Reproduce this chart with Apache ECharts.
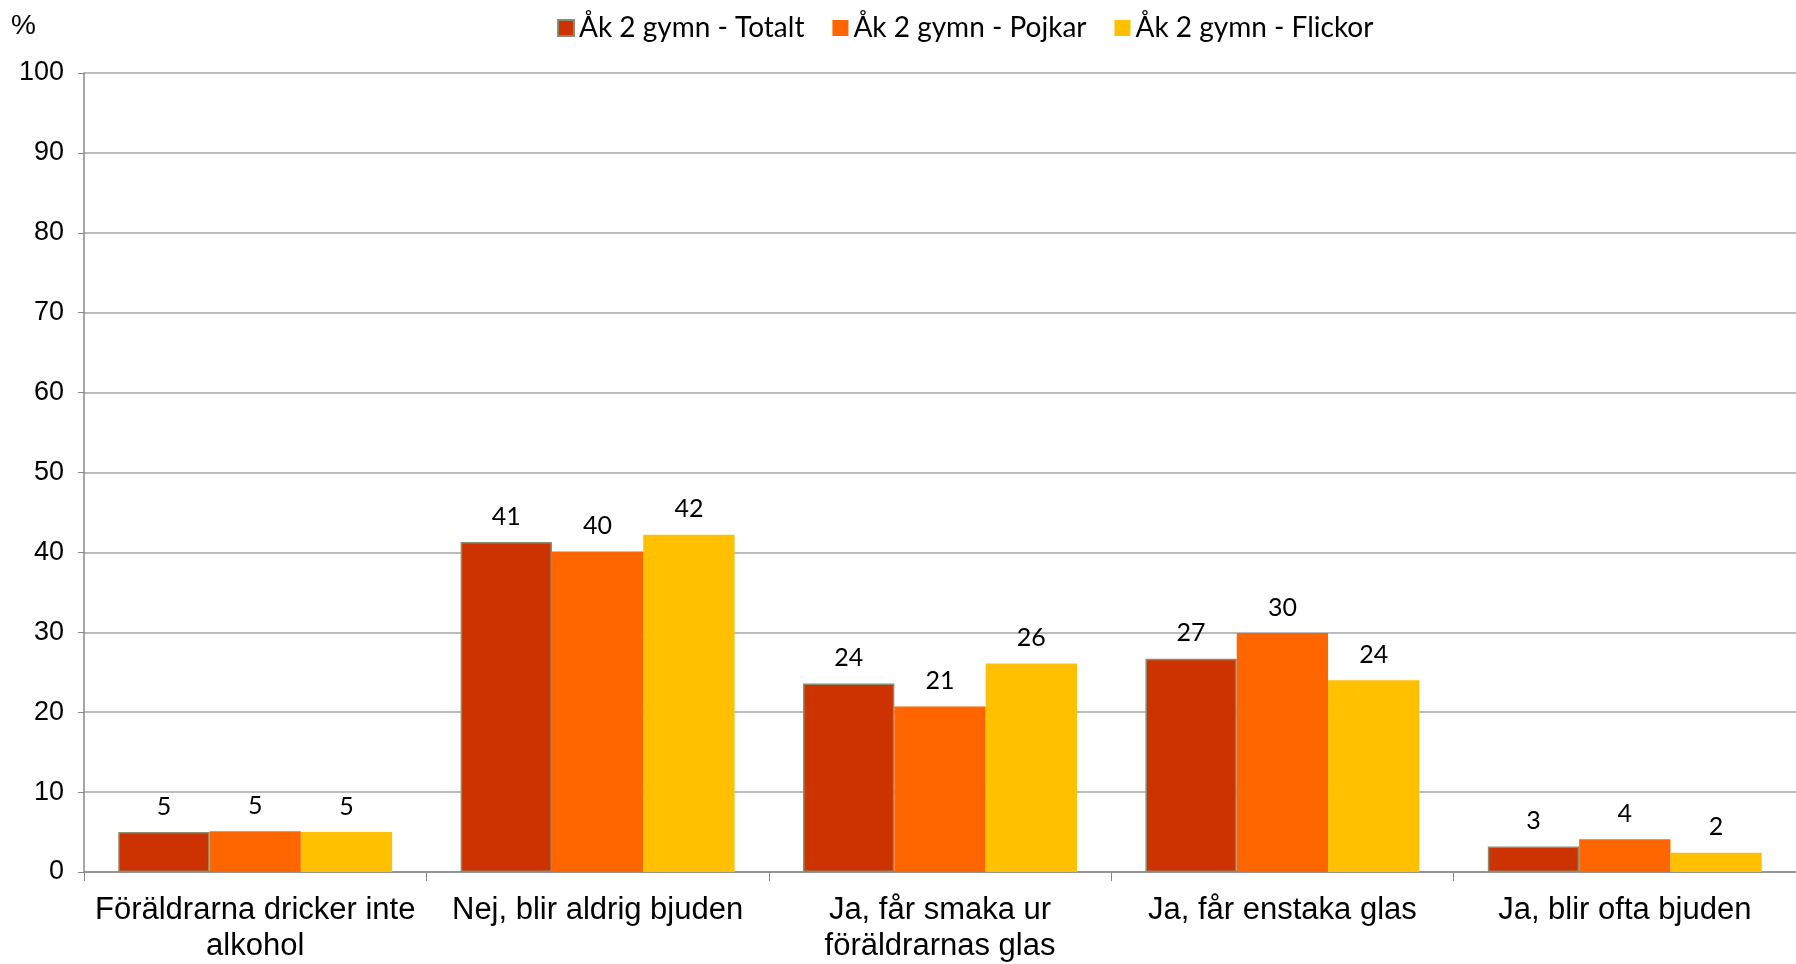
<!DOCTYPE html>
<html><head><meta charset="utf-8">
<script src="https://cdn.jsdelivr.net/npm/echarts@6/dist/echarts.min.js"></script>
<style>html,body{margin:0;padding:0;background:#fff}#c{width:1796px;height:964px}</style>
</head><body><div id="c"></div>
<script>
const categories = ["Föräldrarna dricker inte\nalkohol", "Nej, blir aldrig bjuden", "Ja, får smaka ur\nföräldrarnas glas", "Ja, får enstaka glas", "Ja, blir ofta bjuden"];
const seriesNames = ["Åk 2 gymn - Totalt", "Åk 2 gymn - Pojkar", "Åk 2 gymn - Flickor"];
const totalt = [5.0, 41.3, 23.6, 26.7, 3.2];
const pojkar = [5.1, 40.1, 20.7, 29.9, 4.1];
const flickor = [5.0, 42.2, 26.1, 24.0, 2.4];
const colors = ["#CC3300", "#FF6600", "#FFC000"];
const yTicks = [0, 10, 20, 30, 40, 50, 60, 70, 80, 90, 100];

const labelFont = "Lato, 'Open Sans', sans-serif";
function mk(name, data, color, border) {
  return {
    name, type: 'bar', data, barGap: '0%', barCategoryGap: '20%',
    itemStyle: { color, borderColor: border || color, borderWidth: border ? 1.5 : 0 },
    label: { show: true, position: 'top', distance: 13, color: '#000', fontFamily: labelFont, fontSize: 25,
      formatter: p => Math.round(p.value) }
  };
}
const chart = echarts.init(document.getElementById('c'));
chart.setOption({
  animation: false,
  legend: {
    top: 9, left: 552, itemWidth: 16, itemHeight: 16, itemGap: 28,
    icon: 'rect', textStyle: { fontFamily: labelFont, fontSize: 28, color: '#000' },
    data: seriesNames
  },
  graphic: [{ type: 'text', left: 11, top: 12, style: { text: '%', fontSize: 28, fontFamily: 'Liberation Sans, Arial', fill: '#000' } }],
  grid: { left: 84, top: 73, width: 1722, height: 808 },
  xAxis: {
    type: 'category', data: categories,
    axisLine: { lineStyle: { color: '#888', width: 1.5 } },
    axisTick: { show: true, length: 9, lineStyle: { color: '#888' } },
    axisLabel: { fontFamily: 'Liberation Sans, Arial', fontSize: 31, color: '#000', margin: 20, lineHeight: 36, interval: 0 }
  },
  yAxis: {
    type: 'value', min: 0, max: 100, interval: 10,
    axisLine: { show: true, lineStyle: { color: '#888', width: 1.5 } },
    axisTick: { show: true, length: 6, lineStyle: { color: '#888' } },
    splitLine: { lineStyle: { color: '#A6A6A6', width: 1.5 } },
    axisLabel: { fontFamily: 'Liberation Sans, Arial', fontSize: 27, color: '#000', margin: 20,
      formatter: v => yTicks.includes(v) ? String(v) : '' }
  },
  series: [
    mk(seriesNames[0], totalt, colors[0], '#8C8C6E'),
    mk(seriesNames[1], pojkar, colors[1]),
    mk(seriesNames[2], flickor, colors[2])
  ]
});
</script></body></html>
